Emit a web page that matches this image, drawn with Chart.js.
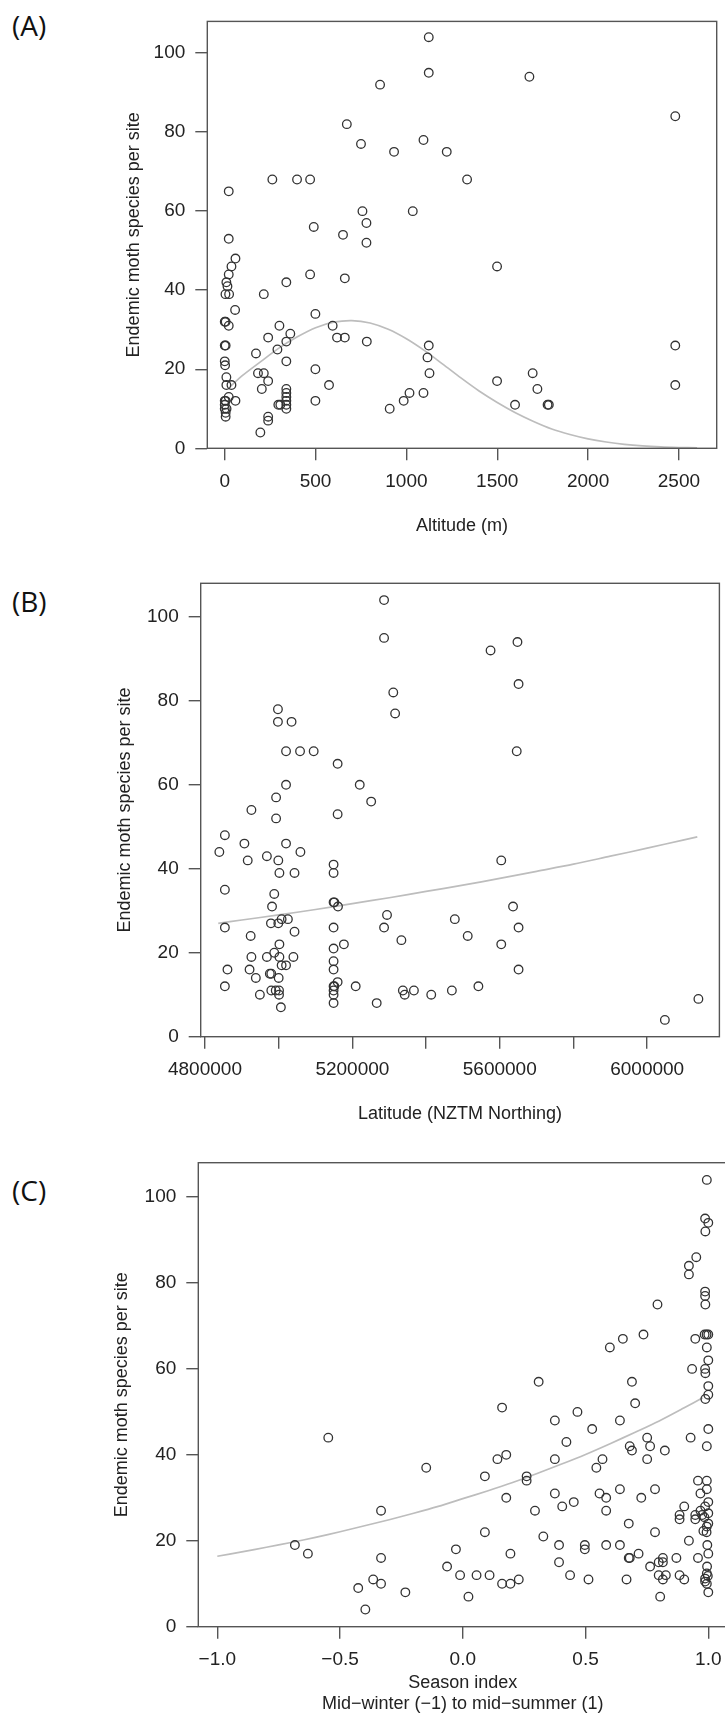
<!DOCTYPE html>
<html>
<head>
<meta charset="utf-8">
<script src="https://cdn.jsdelivr.net/npm/chart.js@4.4.0/dist/chart.umd.min.js"></script>
<style>
  html, body { margin: 0; padding: 0; background: #fff; }
  body { width: 725px; height: 1718px; position: relative; overflow: hidden; }
  canvas { position: absolute; left: 0; }
  .panel-label { position: absolute; left: 12px; font-family: "Open Sans", sans-serif; font-size: 28px; line-height: 28px; color: #111; }
</style>
</head>
<body>
<div class="panel-label" style="top:11px">(A)</div>
<div class="panel-label" style="top:587px">(B)</div>
<div class="panel-label" style="top:1176px">(C)</div>
<canvas id="chartA" width="725" height="537" style="top:0px"></canvas>
<canvas id="chartB" width="725" height="565" style="top:560px"></canvas>
<canvas id="chartC" width="735" height="575" style="top:1140px"></canvas>
<script>
// (A) altitude
var altitude = [1123,1123,1677,855,2480,672,1094,750,932,1222,
  262,398,470,1334,22,758,1035,780,490,651,
  22,780,59,1499,37,470,22,661,339,9,
  15,4,24,215,57,499,0,5,22,301,
  594,361,239,618,661,339,782,0,5,1123,
  2480,290,172,1116,339,0,2,499,183,215,
  1127,1695,9,239,1499,9,37,574,2480,204,
  339,1721,339,1017,1094,339,22,5,59,499,
  339,985,0,295,306,339,1598,1777,1784,0,
  10,339,908,0,5,5,239,239,196];
var speciesA = [104,95,94,92,84,82,78,77,75,75,
  68,68,68,68,65,60,60,57,56,54,
  53,52,48,46,46,44,44,43,42,42,
  41,39,39,39,35,34,32,32,31,31,
  31,29,28,28,28,27,27,26,26,26,
  26,25,24,23,22,22,21,20,19,19,
  19,19,18,17,17,16,16,16,16,15,
  15,15,14,14,14,13,13,12,12,12,
  12,12,12,11,11,11,11,11,11,11,
  10,10,10,10,9,8,8,7,4];
var fitAltitude = [30,100,200,300,400,500,600,700,800,900,1000,1100,1200,1300,1400,1500,1600,1700,1800,1900,2000,2100,2200,2300,2400,2500,2600];
var fitSpeciesA = [15.6,18.5,22.0,25.4,28.2,30.5,31.9,32.3,31.7,30.1,27.7,24.7,21.3,17.8,14.5,11.6,9.0,6.8,4.9,3.5,2.4,1.6,1.0,0.6,0.35,0.2,0.1];
var altitudeTicks = [0, 500, 1000, 1500, 2000, 2500];

// (B) latitude
var northing = [5286000,5286000,5648000,5575000,5651000,5311000,4998000,5316000,4998000,5035000,
  5020000,5058000,5095000,5646000,5160000,5020000,5220000,4993000,5251000,4926000,
  5160000,4993000,4854000,4907000,5020000,4839000,5059000,4968000,4916000,4999000,
  5604000,5149000,5149000,5002000,5043000,4854000,4988000,5149000,5151000,4982000,
  5161000,5636000,5294000,5008000,5025000,5478000,4999000,4979000,4854000,5149000,
  5286000,5651000,5043000,4924000,5513000,5333000,5177000,5002000,5604000,5149000,
  4988000,4926000,4968000,5002000,5040000,5149000,5008000,5020000,4861000,4921000,
  5149000,5651000,4980000,4976000,5000000,4938000,5160000,4854000,5149000,5151000,
  5209000,5542000,4980000,4992000,5001000,5149000,5337000,5367000,5470000,5149000,
  4949000,5001000,5342000,5414000,5149000,5266000,5006000,6048000,6139000];
var speciesB = [104,95,94,92,84,82,78,77,75,75,
  68,68,68,68,65,60,60,57,56,54,
  53,52,48,46,46,44,44,43,42,42,
  42,41,39,39,39,35,34,32,32,31,
  31,31,29,28,28,28,27,27,26,26,
  26,26,25,24,24,23,22,22,22,21,
  20,19,19,19,19,18,17,17,16,16,
  16,16,15,15,14,14,13,12,12,12,
  12,12,11,11,11,11,11,11,11,10,
  10,10,10,10,8,8,7,4,9];
var fitNorthing = [4836000,4900000,5000000,5100000,5200000,5300000,5400000,5500000,5600000,5700000,5800000,5900000,6000000,6100000,6136000];
var fitSpeciesB = [27.0,27.8,29.0,30.3,31.7,33.1,34.6,36.1,37.7,39.4,41.1,43.0,44.9,46.9,47.6];
var northingTicks = [4800000, 5000000, 5200000, 5400000, 5600000, 5800000, 6000000];
var northingLabels = ['4800000', '', '5200000', '', '5600000', '', '6000000'];

// (C) season index
var season = [-0.684,-0.631,-0.548,-0.426,-0.397,-0.365,-0.333,-0.333,-0.333,-0.234,
  -0.149,-0.064,-0.028,-0.011,0.023,0.056,0.09,0.09,0.109,0.141,
  0.16,0.177,0.177,0.16,0.194,0.194,0.228,0.26,0.26,0.294,
  0.309,0.328,0.375,0.375,0.375,0.392,0.392,0.405,0.422,0.437,
  0.452,0.467,0.497,0.497,0.512,0.527,0.544,0.557,0.569,0.584,
  0.584,0.584,0.599,0.64,0.64,0.64,0.652,0.667,0.676,0.676,
  0.68,0.68,0.689,0.689,0.702,0.716,0.727,0.736,0.751,0.751,
  0.763,0.763,0.783,0.783,0.793,0.798,0.798,0.804,0.815,0.815,
  0.815,0.823,0.827,0.87,0.883,0.883,0.883,0.902,0.902,0.921,
  0.921,0.921,0.928,0.934,0.947,0.947,0.951,0.947,0.958,0.958,
  0.968,0.968,
  0.994,0.987,1.0,0.988,0.987,0.987,0.988,0.985,0.993,1.0,
  0.994,1.0,0.987,0.988,1.0,1.0,0.988,1.0,0.994,0.994,
  0.994,1.0,0.987,0.975,0.984,1.0,0.994,1.0,0.98,0.993,
  0.996,1.0,0.995,0.994,0.998,0.987,0.987,0.994,1.0];
var speciesC = [19,17,44,9,4,11,27,16,10,8,
  37,14,18,12,7,12,35,22,12,39,
  51,40,30,10,17,10,11,35,34,27,
  57,21,48,39,31,19,15,28,43,12,
  29,50,19,18,11,46,37,31,39,30,
  27,19,65,48,32,19,67,11,24,16,
  16,42,41,57,52,17,30,68,44,39,
  42,14,32,22,75,15,12,7,15,16,
  11,41,12,16,12,26,25,28,11,84,
  82,20,44,60,26,25,86,67,16,34,
  31,27,
  104,95,94,92,78,77,75,68,68,68,
  65,62,60,59,56,54,53,46,42,34,
  32,29,28,26,25.5,26.4,23.3,24,22.3,22,
  19,17,14,12.4,11.8,11.2,10.5,10,8];
var fitSeason = [-1.0,-0.9,-0.8,-0.7,-0.6,-0.5,-0.4,-0.3,-0.2,-0.1,0.0,0.1,0.2,0.3,0.4,0.5,0.6,0.7,0.8,0.9,0.977];
var fitSpeciesC = [16.4,17.4,18.5,19.6,20.8,22.1,23.5,24.9,26.4,28.0,29.8,31.6,33.5,35.6,37.8,40.1,42.6,45.2,47.9,50.9,53.3];
var seasonTicks = [-1, -0.5, 0, 0.5, 1];
var seasonLabels = ['\u22121.0', '\u22120.5', '0.0', '0.5', '1.0'];

var speciesTicks = [0, 20, 40, 60, 80, 100];

var AXIS_GREY = '#555';
var TEXT = '#222';
var FONT = "'Liberation Sans', Arial, sans-serif";

// draws the full frame round the plot region, like R's box()
var boxPlugin = {
    id: 'box',
    afterDatasetsDraw: function(chart) {
        var a = chart.chartArea;
        var ctx = chart.ctx;
        ctx.save();
        ctx.strokeStyle = AXIS_GREY;
        ctx.lineWidth = 1.4;
        ctx.strokeRect(a.left, a.top, a.right - a.left, a.bottom - a.top);
        ctx.restore();
    }
};

function toPoints(xs, ys) {
    return xs.map(function(x, i) { return { x: x, y: ys[i] }; });
}

// fixed tick positions, Chart.js would otherwise stretch the step to fit min/max
function fixedTicks(values) {
    return function(scale) {
        scale.ticks = values.map(function(v) { return { value: v }; });
    };
}

function makePanel(id, p) {
    var ctx = document.getElementById(id).getContext('2d');
    return new Chart(ctx, {
        type: 'scatter',
        data: {
            datasets: [{
                data: toPoints(p.xs, p.ys),
                pointStyle: 'circle',
                pointRadius: 4.3,
                pointHoverRadius: 4.3,
                pointBorderWidth: 1.3,
                borderColor: '#333',
                backgroundColor: 'rgba(0,0,0,0)'
            }, {
                data: toPoints(p.fitX, p.fitY),
                showLine: true,
                borderColor: '#bdbdbd',
                borderWidth: 1.7,
                pointRadius: 0,
                tension: 0.3,
                fill: false
            }]
        },
        options: {
            responsive: false,
            devicePixelRatio: 1,
            animation: false,
            events: [],
            layout: { padding: p.padding },
            plugins: { legend: { display: false }, tooltip: { enabled: false } },
            scales: {
                x: {
                    type: 'linear',
                    min: p.xMin,
                    max: p.xMax,
                    afterFit: function(s) { s.height = p.xHeight; },
                    afterBuildTicks: fixedTicks(p.xTicks),
                    border: { display: false },
                    grid: { drawOnChartArea: false, drawTicks: true, tickLength: 12, color: AXIS_GREY, lineWidth: 1.4 },
                    ticks: {
                        autoSkip: false,
                        maxRotation: 0,
                        padding: 10,
                        color: TEXT,
                        font: { family: FONT, size: 19 },
                        callback: function(v, i) { return p.xLabels[i]; }
                    },
                    title: { display: true, text: p.xTitle, color: TEXT, font: { family: FONT, size: 18, lineHeight: 1.2 }, padding: 0 }
                },
                y: {
                    type: 'linear',
                    min: 0,
                    max: 108,
                    afterFit: function(s) { s.width = p.yWidth; },
                    afterBuildTicks: fixedTicks(speciesTicks),
                    border: { display: false },
                    grid: { drawOnChartArea: false, drawTicks: true, tickLength: 12, color: AXIS_GREY, lineWidth: 1.4 },
                    ticks: {
                        padding: 10,
                        color: TEXT,
                        font: { family: FONT, size: 19 },
                        callback: function(v) { return String(v); }
                    },
                    title: { display: true, text: 'Endemic moth species per site', color: TEXT, font: { family: FONT, size: 18, lineHeight: 1.2 }, padding: 0 }
                }
            }
        },
        plugins: [boxPlugin]
    });
}

makePanel('chartA', {
    xs: altitude, ys: speciesA, fitX: fitAltitude, fitY: fitSpeciesA,
    xMin: -96, xMax: 2708,
    xTicks: altitudeTicks,
    xLabels: altitudeTicks.map(String),
    xTitle: 'Altitude (m)',
    padding: { left: 123.2, right: 8.3, top: 5, bottom: 0 },
    yWidth: 84.1, xHeight: 88.7
});

makePanel('chartB', {
    xs: northing, ys: speciesB, fitX: fitNorthing, fitY: fitSpeciesB,
    xMin: 4788400, xMax: 6196000,
    xTicks: northingTicks,
    xLabels: northingLabels,
    xTitle: 'Latitude (NZTM Northing)',
    padding: { left: 114, right: 3.3, top: 23.3, bottom: 0 },
    yWidth: 86.7, xHeight: 88.3
});

makePanel('chartC', {
    xs: season, ys: speciesC, fitX: fitSeason, fitY: fitSpeciesC,
    xMin: -1.0774, xMax: 1.0774,
    xTicks: seasonTicks,
    xLabels: seasonLabels,
    xTitle: ['Season index', 'Mid\u2212winter (\u22121) to mid\u2212summer (1)'],
    padding: { left: 111.2, right: 7.7, top: 22.7, bottom: 0 },
    yWidth: 87.1, xHeight: 88.3
});
</script>
</body>
</html>
